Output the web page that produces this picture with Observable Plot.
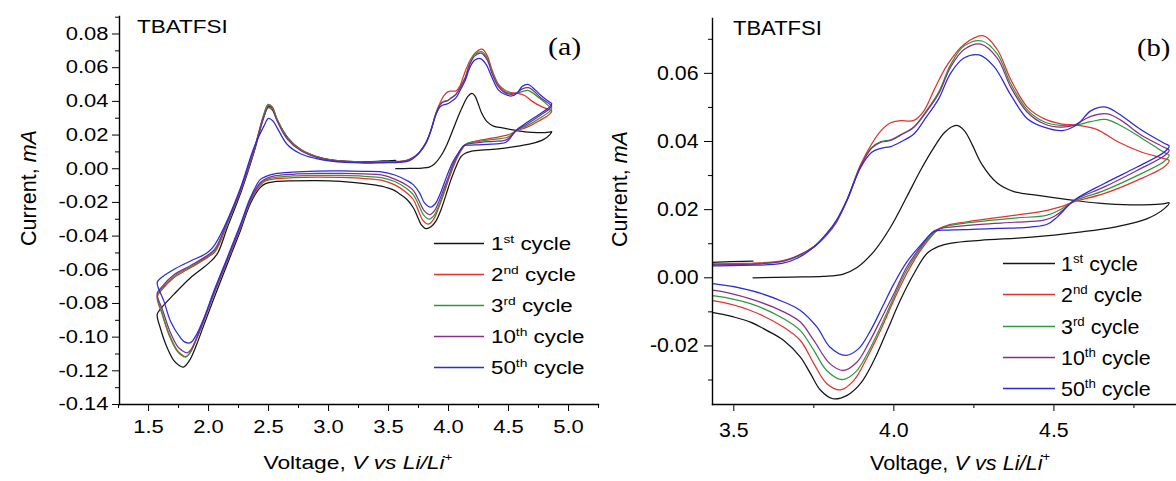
<!DOCTYPE html>
<html><head><meta charset="utf-8">
<script src="https://cdn.jsdelivr.net/npm/d3@7"></script>
<script src="https://cdn.jsdelivr.net/npm/@observablehq/plot@0.6"></script>
<style>
body{margin:0;background:#fff;}
#wrap{position:relative;width:1176px;height:481px;display:flex;overflow:hidden;background:#fff;}
#wrap svg{display:block;}
.lg{position:absolute;font-family:"Liberation Sans",Arial,sans-serif;color:#000;white-space:nowrap;transform-origin:left center;}
.lg sup{font-size:62%;vertical-align:0;position:relative;top:-0.62em;}
</style>
</head><body><div id="wrap"></div>
<script>
// ---------- data: cyclic voltammograms, [voltage V, current mA] in scan order ----------
const cycleNames = ["1st cycle","2nd cycle","3rd cycle","10th cycle","50th cycle"];
const cycleColors = ["#151515","#e3322d","#2b9a3b","#8a2c8a","#2b2bd8"];
const legendNums = ["1","2","3","10","50"];
const legendSups = ["st","nd","rd","th","th"];

const cycle1 = [[3.56,0.0000],[3.68,0.0002],[3.78,0.0004],[3.84,0.0010],[3.885,0.0030],[3.94,0.0080],[3.99,0.0149],[4.04,0.0237],[4.083,0.0315],[4.125,0.0382],[4.16,0.0428],[4.195,0.0447],[4.22,0.0432],[4.245,0.0390],[4.275,0.0333],[4.323,0.0278],[4.375,0.0253],[4.45,0.0242],[4.55,0.0229],[4.64,0.0219],[4.74,0.0214],[4.84,0.0217],[4.86,0.0220],
[4.845,0.0203],[4.79,0.0173],[4.69,0.0149],[4.58,0.0134],[4.43,0.0119],[4.27,0.0110],[4.18,0.0102],[4.14,0.0092],[4.104,0.0072],[4.0625,0.0012],[4.02,-0.0066],[3.979,-0.0155],[3.9375,-0.0243],[3.896,-0.0310],[3.854,-0.0345],[3.81,-0.0355],[3.771,-0.0330],[3.74,-0.0282],[3.708,-0.0233],[3.656,-0.0184],[3.604,-0.0155],[3.552,-0.0130],[3.50,-0.0115],[3.44,-0.0103],[3.30,-0.0088],[3.10,-0.0075],[2.90,-0.0070],[2.70,-0.0072],[2.55,-0.0077],[2.48,-0.0087],[2.43,-0.0112],[2.35,-0.0205],[2.267,-0.0365],[2.16,-0.0560],[2.05,-0.0760],[1.96,-0.0930],[1.90,-0.1045],[1.84,-0.1140],[1.79,-0.1178],[1.75,-0.1165],[1.71,-0.1138],[1.645,-0.1045],[1.60,-0.0950],[1.572,-0.0865],
[1.60,-0.0832],[1.711,-0.0746],[1.85,-0.0647],[1.99,-0.0568],[2.07,-0.0509],[2.156,-0.0350],[2.27,-0.0140],[2.38,0.0100],[2.46,0.0305],[2.50,0.0372],[2.53,0.0360],[2.57,0.0292],[2.66,0.0185],[2.77,0.0112],[2.90,0.0072],[3.02,0.0053],[3.30,0.0042],[3.45,0.0046],[3.56,0.0049]];

const cycle2 = [[3.56,0.0043],[3.65,0.0050],[3.70,0.0064],[3.75,0.0090],[3.79,0.0125],[3.82,0.0162],[3.855,0.0232],[3.895,0.0330],[3.93,0.0392],[3.96,0.0432],[3.99,0.0455],[4.02,0.0461],[4.0625,0.0462],[4.094,0.0490],[4.125,0.0550],[4.167,0.0625],[4.219,0.0685],[4.28,0.0710],[4.323,0.0670],[4.365,0.0582],[4.417,0.0501],[4.469,0.0467],[4.521,0.0452],[4.573,0.0448],[4.635,0.0435],[4.698,0.0400],[4.771,0.0370],[4.844,0.0350],[4.86,0.0344],
[4.845,0.0326],[4.76,0.0286],[4.656,0.0247],[4.5625,0.0223],[4.52,0.0208],[4.479,0.0198],[4.375,0.0183],[4.219,0.0163],[4.167,0.0154],[4.14,0.0143],[4.125,0.0130],[4.083,0.0080],[4.04,0.0012],[4.0,-0.0066],[3.958,-0.0155],[3.917,-0.0233],[3.875,-0.0301],[3.833,-0.0329],[3.79,-0.0310],[3.75,-0.0252],[3.708,-0.0184],[3.656,-0.0145],[3.552,-0.0096],[3.44,-0.0068],[3.30,-0.0058],[3.10,-0.0052],[2.90,-0.0050],[2.70,-0.0053],[2.55,-0.0060],[2.48,-0.0071],[2.43,-0.0098],[2.35,-0.0192],[2.267,-0.0350],[2.156,-0.0548],[2.044,-0.0746],[1.961,-0.0905],[1.892,-0.1025],[1.845,-0.1095],[1.808,-0.1118],[1.77,-0.1105],[1.739,-0.1083],[1.669,-0.0984],[1.614,-0.0865],[1.572,-0.0762],
[1.60,-0.0728],[1.711,-0.0647],[1.85,-0.0588],[1.989,-0.0528],[2.058,-0.0489],[2.156,-0.0330],[2.267,-0.0133],[2.378,0.0105],[2.461,0.0323],[2.497,0.0382],[2.53,0.0368],[2.572,0.0293],[2.656,0.0184],[2.767,0.0115],[2.90,0.0072],[3.02,0.0052],[3.30,0.0039],[3.45,0.0041],[3.56,0.0043]];

const cycle3 = [[3.56,0.0041],[3.65,0.0048],[3.70,0.0063],[3.75,0.0090],[3.79,0.0126],[3.82,0.0163],[3.855,0.0230],[3.895,0.0325],[3.93,0.0382],[3.96,0.0400],[3.99,0.0405],[4.02,0.0420],[4.0625,0.0443],[4.10,0.0488],[4.14,0.0545],[4.177,0.0625],[4.219,0.0680],[4.275,0.0695],[4.323,0.0657],[4.365,0.0570],[4.417,0.0493],[4.469,0.0458],[4.521,0.0447],[4.563,0.0447],[4.615,0.0458],[4.66,0.0465],[4.698,0.0452],[4.771,0.0412],[4.844,0.0368],[4.86,0.0360],
[4.845,0.0342],[4.76,0.0300],[4.656,0.0256],[4.5625,0.0225],[4.52,0.0200],[4.479,0.0184],[4.375,0.0175],[4.219,0.0160],[4.167,0.0152],[4.146,0.0145],[4.125,0.0133],[4.083,0.0085],[4.04,0.0022],[4.0,-0.0057],[3.958,-0.0145],[3.917,-0.0223],[3.88,-0.0277],[3.839,-0.0299],[3.79,-0.0272],[3.75,-0.0213],[3.708,-0.0155],[3.656,-0.0120],[3.552,-0.0076],[3.44,-0.0053],[3.30,-0.0045],[3.10,-0.0040],[2.90,-0.0039],[2.70,-0.0043],[2.55,-0.0052],[2.48,-0.0065],[2.43,-0.0090],[2.35,-0.0185],[2.267,-0.0345],[2.156,-0.0545],[2.044,-0.0742],[1.961,-0.0900],[1.895,-0.1018],[1.848,-0.1090],[1.81,-0.1115],[1.77,-0.1100],[1.739,-0.1078],[1.669,-0.0975],[1.614,-0.0858],[1.572,-0.0752],
[1.60,-0.0720],[1.711,-0.0640],[1.85,-0.0582],[1.989,-0.0522],[2.055,-0.0484],[2.156,-0.0325],[2.267,-0.0128],[2.378,0.0108],[2.461,0.0322],[2.497,0.0378],[2.53,0.0365],[2.572,0.0292],[2.656,0.0183],[2.767,0.0113],[2.90,0.0071],[3.02,0.0051],[3.30,0.0038],[3.45,0.0040],[3.56,0.0041]];

const cycle10 = [[3.56,0.0040],[3.65,0.0048],[3.70,0.0065],[3.75,0.0092],[3.79,0.0128],[3.82,0.0165],[3.855,0.0230],[3.895,0.0325],[3.93,0.0380],[3.96,0.0398],[3.99,0.0403],[4.02,0.0418],[4.0625,0.0442],[4.10,0.0485],[4.14,0.0540],[4.177,0.0618],[4.219,0.0670],[4.271,0.0686],[4.323,0.0645],[4.365,0.0560],[4.417,0.0486],[4.469,0.0452],[4.521,0.0442],[4.563,0.0448],[4.615,0.0474],[4.667,0.0481],[4.71,0.0462],[4.771,0.0420],[4.844,0.0383],[4.86,0.0374],
[4.845,0.0358],[4.76,0.0315],[4.656,0.0266],[4.5625,0.0227],[4.53,0.0200],[4.50,0.0180],[4.469,0.0169],[4.375,0.0163],[4.271,0.0157],[4.19,0.0150],[4.146,0.0145],[4.125,0.0137],[4.083,0.0090],[4.04,0.0031],[4.0,-0.0047],[3.958,-0.0125],[3.92,-0.0194],[3.885,-0.0247],[3.842,-0.0272],[3.80,-0.0252],[3.75,-0.0184],[3.708,-0.0130],[3.656,-0.0100],[3.552,-0.0062],[3.44,-0.0037],[3.30,-0.0031],[3.10,-0.0028],[2.90,-0.0028],[2.70,-0.0033],[2.55,-0.0043],[2.48,-0.0058],[2.43,-0.0083],[2.35,-0.0180],[2.267,-0.0340],[2.156,-0.0540],[2.044,-0.0738],[1.961,-0.0895],[1.90,-0.1005],[1.855,-0.1072],[1.822,-0.1093],[1.78,-0.1080],[1.745,-0.1058],[1.675,-0.0960],[1.62,-0.0845],[1.572,-0.0742],
[1.60,-0.0710],[1.711,-0.0630],[1.85,-0.0575],[1.989,-0.0516],[2.052,-0.0478],[2.15,-0.0325],[2.267,-0.0125],[2.378,0.0110],[2.461,0.0310],[2.498,0.0362],[2.53,0.0350],[2.572,0.0283],[2.656,0.0176],[2.767,0.0108],[2.90,0.0068],[3.02,0.0050],[3.30,0.0037],[3.45,0.0038],[3.56,0.0040]];

const cycle50 = [[3.56,0.0037],[3.65,0.0042],[3.70,0.0058],[3.75,0.0090],[3.79,0.0130],[3.82,0.0168],[3.855,0.0232],[3.895,0.0322],[3.93,0.0368],[3.96,0.0380],[3.99,0.0385],[4.02,0.0398],[4.0625,0.0422],[4.10,0.0470],[4.14,0.0525],[4.177,0.0600],[4.219,0.0645],[4.266,0.0654],[4.313,0.0620],[4.365,0.0537],[4.417,0.0467],[4.469,0.0442],[4.526,0.0432],[4.573,0.0450],[4.615,0.0490],[4.662,0.0501],[4.70,0.0483],[4.771,0.0435],[4.844,0.0395],[4.86,0.0387],
[4.845,0.0369],[4.76,0.0325],[4.656,0.0276],[4.5625,0.0227],[4.51,0.0178],[4.479,0.0157],[4.427,0.0149],[4.323,0.0145],[4.219,0.0141],[4.16,0.0140],[4.125,0.0135],[4.083,0.0095],[4.04,0.0046],[4.0,-0.0018],[3.964,-0.0086],[3.927,-0.0155],[3.89,-0.0208],[3.849,-0.0228],[3.80,-0.0203],[3.76,-0.0145],[3.708,-0.0096],[3.656,-0.0071],[3.552,-0.0037],[3.44,-0.0018],[3.30,-0.0015],[3.10,-0.0013],[2.90,-0.0014],[2.70,-0.0020],[2.55,-0.0030],[2.48,-0.0045],[2.43,-0.0065],[2.35,-0.0170],[2.267,-0.0328],[2.156,-0.0528],[2.044,-0.0728],[1.961,-0.0888],[1.90,-0.0985],[1.85,-0.1033],[1.80,-0.1028],[1.767,-0.1004],[1.683,-0.0905],[1.628,-0.0786],[1.572,-0.0677],
[1.60,-0.0650],[1.711,-0.0598],[1.85,-0.0548],[1.989,-0.0499],[2.044,-0.0459],[2.128,-0.0350],[2.267,-0.0113],[2.378,0.0125],[2.461,0.0253],[2.50,0.0299],[2.535,0.0285],[2.572,0.0243],[2.656,0.0144],[2.767,0.0089],[2.90,0.0060],[3.02,0.0045],[3.30,0.0034],[3.45,0.0035],[3.56,0.0037]];

// ticks
const xMajorA = [1.5,2.0,2.5,3.0,3.5,4.0,4.5,5.0];
const xMinorA = [1.25,1.75,2.25,2.75,3.25,3.75,4.25,4.75,5.25];
const yMajorA = [-0.14,-0.12,-0.10,-0.08,-0.06,-0.04,-0.02,0.00,0.02,0.04,0.06,0.08];
const yMinorA = [-0.13,-0.11,-0.09,-0.07,-0.05,-0.03,-0.01,0.01,0.03,0.05,0.07,0.09];
const xMajorB = [3.5,4.0,4.5];
const xMinorB = [3.75,4.25,4.75];
const yMajorB = [-0.02,0.00,0.02,0.04,0.06];
const yMinorB = [-0.03,-0.01,0.01,0.03,0.05,0.07];

// ---------- build table ----------
const allCycles = [cycle1, cycle2, cycle3, cycle10, cycle50];
const rows = [];
allCycles.forEach((pts, k) => pts.forEach(([v, c], i) => rows.push({cycle: cycleNames[k], v, c, i})));

const FONT = "Liberation Sans, Arial, sans-serif";
const wrap = document.getElementById("wrap");

function panel(cfg) {
  return Plot.plot({
    width: cfg.width, height: 481,
    marginLeft: cfg.ml, marginRight: cfg.mr, marginTop: cfg.mt, marginBottom: 77,
    style: {background: "white", color: "black", fontFamily: FONT, overflow: "visible"},
    x: {domain: cfg.xd, label: null},
    y: {domain: cfg.yd, label: null},
    color: {domain: cycleNames, range: cycleColors},
    marks: [
      Plot.line(rows, {x: "v", y: "c", z: "cycle", stroke: "cycle", curve: "catmull-rom", strokeWidth: 1.25, clip: true}),
      Plot.axisX({ticks: cfg.xMaj, tickSize: 7, tickPadding: cfg.xpad, tickFormat: d => d.toFixed(1), fontSize: cfg.fs, label: null}),
      Plot.axisX({ticks: cfg.xMin, tickSize: 4, tickFormat: () => "", label: null}),
      Plot.axisY({ticks: cfg.yMaj, tickSize: cfg.yts, tickPadding: cfg.ypad, tickFormat: d => d.toFixed(2), fontSize: cfg.fs, label: null}),
      Plot.axisY({ticks: cfg.yMin, tickSize: 4, tickFormat: () => "", label: null}),
      Plot.frame({anchor: "left", strokeWidth: 1.4}),
      Plot.frame({anchor: "bottom", strokeWidth: 1.4})
    ]
  });
}

const svgA = panel({width: 600, ml: 119, mr: 2, mt: 16, xd: [1.258, 5.25], yd: [-0.14, 0.0904],
  xMaj: xMajorA, xMin: xMinorA, yMaj: yMajorA, yMin: yMinorA, fs: 18, xpad: 9, yts: 7, ypad: 4});
const svgB = panel({width: 576, ml: 112, mr: 0, mt: 18, xd: [3.4334, 4.883], yd: [-0.03719, 0.0761],
  xMaj: xMajorB, xMin: xMinorB, yMaj: yMajorB, yMin: yMinorB, fs: 20.5, xpad: 11, yts: 8, ypad: 6});
wrap.appendChild(svgA);
wrap.appendChild(svgB);

// widen tick label glyphs (reference type is horizontally wide) without moving their anchors
function stretchTicks(svg, f) {
  svg.querySelectorAll('g[aria-label$="tick label"] text').forEach(t => {
    const w = t.getComputedTextLength();
    if (w > 0) {
      t.setAttribute("textLength", (w * f).toFixed(2));
      t.setAttribute("lengthAdjust", "spacingAndGlyphs");
    }
  });
}
stretchTicks(svgA, 1.22);
stretchTicks(svgB, 1.04);

const NS = "http://www.w3.org/2000/svg";
function addText(svg, o) {
  const t = document.createElementNS(NS, "text");
  t.setAttribute("transform", `translate(${o.x},${o.y})${o.rot ? ` rotate(${o.rot})` : ""} scale(${o.f || 1},1)`);
  t.setAttribute("text-anchor", o.anchor || "start");
  t.setAttribute("font-family", o.family || FONT);
  t.setAttribute("font-size", o.size);
  t.setAttribute("fill", "#000");
  o.parts.forEach(p => {
    const s = document.createElementNS(NS, "tspan");
    s.textContent = p.t;
    if (p.italic) s.setAttribute("font-style", "italic");
    if (p.sup) { s.setAttribute("font-size", o.size * 0.6); s.setAttribute("dy", -o.size * 0.42); }
    t.appendChild(s);
  });
  svg.appendChild(t);
}
const xTitle = [{t: "Voltage, "}, {t: "V vs Li/Li", italic: true}, {t: "+", sup: true}];
const yTitle = [{t: "Current, "}, {t: "mA", italic: true}];

// panel (a)
addText(svgA, {x: 137, y: 33, size: 18, f: 1.25, parts: [{t: "TBATFSI"}]});
addText(svgA, {x: 548, y: 55, size: 26, f: 1.15, family: "Liberation Serif, Times New Roman, serif", parts: [{t: "(a)"}]});
addText(svgA, {x: 358, y: 469, size: 19, f: 1.2, anchor: "middle", parts: xTitle});
addText(svgA, {x: 36, y: 188, size: 21.5, rot: -90, anchor: "middle", parts: yTitle});
// panel (b)
addText(svgB, {x: 133, y: 35, size: 20, f: 1.1, parts: [{t: "TBATFSI"}]});
addText(svgB, {x: 537, y: 56, size: 26, f: 1.1, family: "Liberation Serif, Times New Roman, serif", parts: [{t: "(b)"}]});
addText(svgB, {x: 360, y: 470, size: 20.5, f: 1.06, anchor: "middle", parts: xTitle});
addText(svgB, {x: 27, y: 189, size: 21.5, rot: -90, anchor: "middle", parts: yTitle});

// legends: sample lines in the svg, labels as HTML overlay
function legend(svg, offX, o) {
  cycleNames.forEach((name, k) => {
    const cy = Math.round(o.y0 + k * o.dy);
    const ln = document.createElementNS(NS, "line");
    ln.setAttribute("x1", o.lx - offX); ln.setAttribute("x2", o.lx + o.lw - offX);
    ln.setAttribute("y1", cy + 0.5); ln.setAttribute("y2", cy + 0.5);
    ln.setAttribute("stroke", cycleColors[k]); ln.setAttribute("stroke-width", 1.3);
    svg.appendChild(ln);
    const tx = document.createElement("div");
    tx.className = "lg";
    tx.style.fontSize = o.fs + "px";
    tx.style.lineHeight = o.fs + "px";
    tx.style.left = o.tx + "px";
    tx.style.top = (cy + 0.5 - 0.49 * o.fs) + "px";
    tx.style.transform = `scaleX(${o.f})`;
    tx.innerHTML = `${legendNums[k]}<sup>${legendSups[k]}</sup> cycle`;
    wrap.appendChild(tx);
  });
}
legend(svgA, 0, {lx: 434, lw: 50, tx: 491, y0: 243, dy: 31, fs: 18, f: 1.24});
legend(svgB, 600, {lx: 1003, lw: 52, tx: 1061, y0: 263, dy: 31.3, fs: 21, f: 1.02});
</script></body></html>
